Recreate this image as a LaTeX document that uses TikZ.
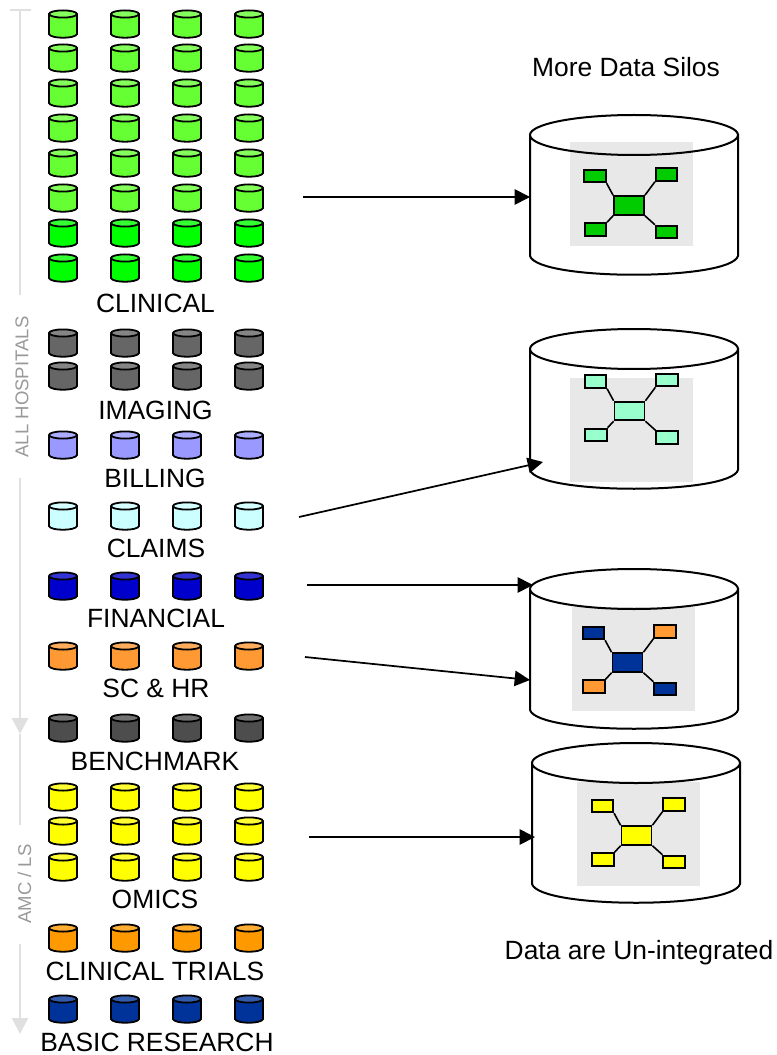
\documentclass[tikz,border=0pt]{standalone}
\usepackage{fontspec}
\setmainfont{Liberation Sans}
\usetikzlibrary{arrows.meta}

\definecolor{clinicalA}{HTML}{66FF33}
\definecolor{clinicalB}{HTML}{00FF00}
\definecolor{imaging}{HTML}{666666}
\definecolor{billing}{HTML}{9999FF}
\definecolor{claims}{HTML}{CCFFFF}
\definecolor{financial}{HTML}{0000CC}
\definecolor{schr}{HTML}{FF9933}
\definecolor{benchmark}{HTML}{4D4D4D}
\definecolor{omics}{HTML}{FFFF00}
\definecolor{trials}{HTML}{FF9900}
\definecolor{basic}{HTML}{003399}
\definecolor{silogreen}{HTML}{00CC00}
\definecolor{siloaqua}{HTML}{99FFCC}
\definecolor{panelgrey}{HTML}{E8E8E8}
\definecolor{sidegrey}{HTML}{E0E0E0}

\tikzset{
  label/.style={font=\fontsize{19.8pt}{22pt}\selectfont,inner sep=0pt},
  sidelabel/.style={font=\fontsize{13.9pt}{16pt}\selectfont,text=black!40,inner sep=0pt,rotate=90},
  flow/.style={line width=1.3pt,-{Triangle[length=11.5pt,width=11.5pt]}},
  sidearrow/.style={sidegrey,line width=1.7pt,-{Triangle[length=12pt,width=12pt]}},
  netbox/.style={draw,line width=1.4pt,minimum width=16pt,minimum height=9.5pt,inner sep=0pt},
  netcore/.style={draw,line width=1.4pt,minimum width=22.5pt,minimum height=14pt,inner sep=0pt},
  netlink/.style={line width=1.2pt}
}

% one small drum: top left corner and colour
\newcommand{\drum}[3]{
  \draw[fill=#3,line width=1.35pt] (#1,#2+5) -- (#1,#2+24) .. controls (#1+1.5,#2+29) and (#1+26.5,#2+29) .. (#1+28,#2+24) -- (#1+28,#2+5) -- cycle;
  \draw[fill=#3!80!white,line width=1.35pt] (#1+14,#2+4) ellipse (14 and 3.6);
}

% one row of four small drums: y and colour
\newcommand{\drumrow}[2]{
  \foreach \colx in {49,111,173,235} {\drum{\colx}{#1}{#2}}
}

% big drum: left edge, top, then the grey panel left edge and top
\newcommand{\silo}[4]{
  \draw[fill=white,line width=1.5pt] (#1,#2+20) -- (#1,#2+141) .. controls (#1+8,#2+166) and (#1+200,#2+166) .. (#1+208,#2+141) -- (#1+208,#2+20) -- cycle;
  \fill[white] (#1+104,#2+20) ellipse (104 and 20);
  \fill[panelgrey] (#3,#4) rectangle ++(123,104);
  \draw[line width=1.5pt] (#1+104,#2+20) ellipse (104 and 20);
}

% little network: name, centre, colour of core and one diagonal, colour of other diagonal
\newcommand{\silonet}[5]{
  \node[netcore,fill=#4] (#1core) at (#2,#3) {};
  \node[netbox,fill=#4] (#1tl) at (#2-34,#3-29.5) {};
  \node[netbox,fill=#5] (#1tr) at (#2+37.5,#3-31) {};
  \node[netbox,fill=#5] (#1bl) at (#2-33.5,#3+24) {};
  \node[netbox,fill=#4] (#1br) at (#2+37.5,#3+26.5) {};
  \draw[netlink] (#1tl.south east) -- (#1core.north west);
  \draw[netlink] (#1tr.south west) -- (#1core.north east);
  \draw[netlink] (#1bl.north east) -- (#1core.south west);
  \draw[netlink] (#1br.north west) -- (#1core.south east);
}

\begin{document}
\begin{tikzpicture}[x=0.75pt,y=0.75pt,yscale=-1,xscale=1]
\useasboundingbox (0,0) rectangle (776,1055);

% Side markers
\coordinate (hospTop) at (20,10);
\coordinate (hospEnd) at (20,295);
\coordinate (tickL) at (10,10);
\coordinate (tickR) at (31,10);
\coordinate (finTop) at (20,478);
\coordinate (finTip) at (20,734);
\coordinate (finEnd) at (20,825);
\coordinate (amcTop) at (20,944);
\coordinate (amcTip) at (20,1034);
\draw[sidegrey,line width=1.7pt] (tickL) -- (tickR);
\draw[sidegrey,line width=1.7pt] (hospTop) -- (hospEnd);
\draw[sidearrow] (finTop) -- (finTip);
\draw[sidegrey,line width=1.7pt] (finTip) -- (finEnd);
\draw[sidearrow] (amcTop) -- (amcTip);
\node[sidelabel] (allHospitals) at (22,387) {ALL HOSPITALS};
\node[sidelabel] (amcLs) at (24.5,884) {AMC / LS};

% Small drums
\foreach \rowy in {10,44,79,114,149,184} {\drumrow{\rowy}{clinicalA}}
\foreach \rowy in {219,254} {\drumrow{\rowy}{clinicalB}}
\foreach \rowy in {329,362} {\drumrow{\rowy}{imaging}}
\drumrow{431}{billing}
\drumrow{502}{claims}
\drumrow{572}{financial}
\drumrow{642}{schr}
\drumrow{714}{benchmark}
\foreach \rowy in {783,817,853} {\drumrow{\rowy}{omics}}
\drumrow{924}{trials}
\drumrow{995}{basic}

% Text Node
\node[label] (clinical) at (155.5,303) {CLINICAL};
\node[label] (imagingText) at (155.5,410) {IMAGING};
\node[label] (billingText) at (155,478) {BILLING};
\node[label] (claimsText) at (156,548) {CLAIMS};
\node[label] (financialText) at (156,618) {FINANCIAL};
\node[label] (schrText) at (156,688) {SC \& HR};
\node[label] (benchmarkText) at (155,761) {BENCHMARK};
\node[label] (omicsText) at (155,899) {OMICS};
\node[label] (trialsText) at (155,971) {CLINICAL TRIALS};
\node[label] (basicText) at (157,1042.5) {BASIC RESEARCH};
\node[label] (moreSilos) at (626,67) {More Data Silos};
\node[label] (unintegrated) at (639,953) {Data are Un-integrated};

% Big drums
\silo{530}{115}{570}{142}
\silonet{a}{629}{205.5}{silogreen}{silogreen}
\silo{530}{329}{570}{378}
\silonet{b}{629.5}{411}{siloaqua}{siloaqua}
\silo{530}{569}{572}{607}
\silonet{c}{627.5}{662.5}{basic}{schr}
\silo{532}{743}{577}{782}
\silonet{d}{636.5}{835.5}{omics}{omics}

% Arrows
\coordinate (fromClinical) at (303,197);
\coordinate (toSiloA) at (530,197);
\coordinate (fromClaims) at (299,517);
\coordinate (toSiloB) at (543,462);
\coordinate (fromFinancial) at (307,585);
\coordinate (toSiloCTop) at (533,585);
\coordinate (fromSchr) at (305,657);
\coordinate (toSiloCMid) at (530,680);
\coordinate (fromOmics) at (309,837);
\coordinate (toSiloD) at (535,837);
\draw[flow] (fromClinical) -- (toSiloA);
\draw[flow] (fromClaims) -- (toSiloB);
\draw[flow] (fromFinancial) -- (toSiloCTop);
\draw[flow] (fromSchr) -- (toSiloCMid);
\draw[flow] (fromOmics) -- (toSiloD);
\end{tikzpicture}
\end{document}
